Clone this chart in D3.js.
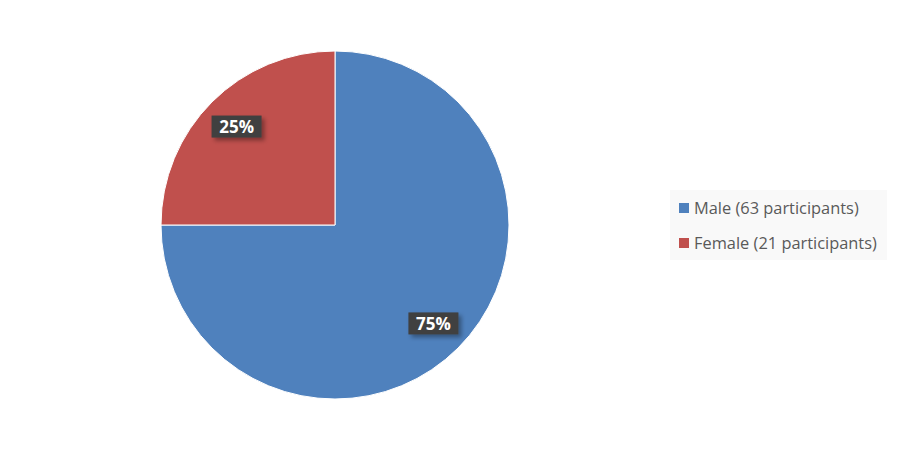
<!DOCTYPE html>
<html>
<head>
<meta charset="utf-8">
<script src="https://cdn.jsdelivr.net/npm/d3@7"></script>
<style>
  body { margin: 0; background: #fff; }
  svg { display: block; }
  .legend text { font-family: 'Open Sans', sans-serif; font-size: 16.4px; fill: #595959; }
  .lbl text { font-family: 'Open Sans', sans-serif; font-size: 17px; font-weight: bold; fill: #fff; }
</style>
</head>
<body>
<div id="chart"></div>
<script>
// chart values
const categories = ['Male', 'Female'];
const participants = [63, 21];
const percentLabels = ['75%', '25%'];
const legendLabels = ['Male (63 participants)', 'Female (21 participants)'];
const colors = ['#4f81bd', '#c0504d'];

const width = 900;
const height = 450;
const cx = 335;
const cy = 225;
const radius = 174;

const svg = d3.select('#chart')
  .append('svg')
  .attr('width', width)
  .attr('height', height);

const defs = svg.append('defs');
const shadow = defs.append('filter')
  .attr('id', 'shadow')
  .attr('x', '-20%').attr('y', '-20%')
  .attr('width', '150%').attr('height', '160%');
shadow.append('feDropShadow')
  .attr('dx', 3).attr('dy', 3)
  .attr('stdDeviation', 2)
  .attr('flood-color', '#000')
  .attr('flood-opacity', 0.35);

const data = categories.map((c, i) => ({
  name: c,
  value: participants[i],
  pct: percentLabels[i],
  color: colors[i],
}));

const pie = d3.pie()
  .sort(null)
  .value(d => d.value);

const arc = d3.arc()
  .innerRadius(0)
  .outerRadius(radius);

const labelArc = d3.arc()
  .innerRadius(radius * 0.8)
  .outerRadius(radius * 0.8);

const g = svg.append('g')
  .attr('transform', `translate(${cx}, ${cy})`);

const arcs = pie(data);

g.selectAll('path.slice')
  .data(arcs)
  .enter()
  .append('path')
  .attr('class', 'slice')
  .attr('d', arc)
  .attr('fill', d => d.data.color)
  .attr('stroke', '#fff')
  .attr('stroke-width', 1);

// data labels with dark boxes
const lbl = g.selectAll('g.lbl')
  .data(arcs)
  .enter()
  .append('g')
  .attr('class', 'lbl')
  .attr('transform', d => `translate(${labelArc.centroid(d)})`);

lbl.append('rect')
  .attr('x', -25)
  .attr('y', -11)
  .attr('width', 50)
  .attr('height', 22)
  .attr('fill', '#404040')
  .attr('filter', 'url(#shadow)');

lbl.append('text')
  .attr('text-anchor', 'middle')
  .attr('dy', '0.36em')
  .text(d => d.data.pct);

// legend
const legend = svg.append('g')
  .attr('class', 'legend')
  .attr('transform', 'translate(670, 190)');

legend.append('rect')
  .attr('width', 217)
  .attr('height', 70)
  .attr('fill', '#f9f9f9');

const y = d3.scalePoint()
  .domain(categories)
  .range([18, 53]);

const item = legend.selectAll('g.item')
  .data(data)
  .enter()
  .append('g')
  .attr('class', 'item')
  .attr('transform', d => `translate(9, ${y(d.name)})`);

item.append('rect')
  .attr('y', -5)
  .attr('width', 10)
  .attr('height', 10)
  .attr('fill', d => d.color);

item.append('text')
  .attr('x', 15)
  .attr('dy', '0.36em')
  .text((d, i) => legendLabels[i]);
</script>
</body>
</html>
